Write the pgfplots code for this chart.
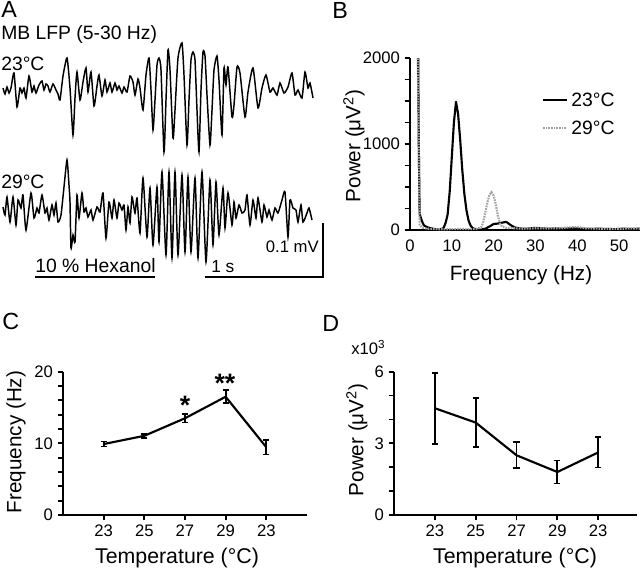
\documentclass[border=0pt]{standalone}
\usepackage{fontspec}
\setmainfont{Liberation Sans}
\usepackage{pgfplots}
\pgfplotsset{compat=1.18}

\newcommand{\fs}[1]{\fontsize{#1}{#1}\selectfont}
\definecolor{dotgray}{HTML}{A0A0A0}

\pgfplotsset{
  panel/.style={
    scale only axis, anchor=south west,
    axis x line*=bottom, axis y line*=left,
    axis line style={-, line width=1.4pt},
    tick style={black, line width=1.3pt},
    tick align=outside, major tick length=4pt, minor tick length=4pt,
    tick label style={font=\fs{12.5}},
    /pgf/number format/assume math mode=true,
    /pgf/number format/set thousands separator={},
  },
  ebar/.style={black, line width=1.6pt, mark=none,
    error bars/.cd, y dir=both, y explicit,
    error bar style={line width=1.4pt},
    error mark options={line width=1.4pt, mark size=2.3pt, rotate=90}},
}

\begin{document}
\begin{tikzpicture}
\useasboundingbox (0,0) rectangle (480pt,-431.25pt);

% panel A, traces and labels, in pixel units of the whole figure
\begin{axis}[at={(240pt,-215.625pt)}, anchor=center, scale only axis,
  width=480pt, height=431.25pt, xmin=0, xmax=640, ymin=0, ymax=575,
  y dir=reverse, hide axis, clip=false]
% 23 C trace
\addplot[black, line width=1.1pt, smooth, tension=0.35] coordinates {
(3,88)(5,94)(7,87)(9,93)(11,88)(14,73)(17,107)(20,88)(22,93)(24,88)(26,98)
(29,76)(32,92)(34,86)(36,93)(39,85)(42,81)(44,90)(46,84)(48,86)(50,92)(53,84)
(56,90)(58,94)(60,100)(63,76)(67,58)(70,88)(73,135)(75,98)(77,72)(80,100)
(83,82)(86,68)(88,92)(91,72)(94,106)(97,86)(99,75)(102,96)(105,80)(107,92)
(110,83)(112,92)(115,83)(117,90)(119,86)(122,93)(124,87)(127,92)(130,76)
(133,82)(135,95)(138,79)(140,88)(143,110)(146,75)(149,58)(151,90)(153,130)
(155,100)(157,65)(159,58)(161,70)(164,152)(166,100)(168,50)(170,70)(173,138)
(175,110)(178,58)(182,43)(184,75)(187,145)(189,100)(191,60)(193,52)(195,60)
(197,110)(199,152)(201,90)(203,52)(205,56)(207,95)(210,145)(212,110)(214,70)
(217,56)(219,80)(222,135)(224,68)(226,85)(228,67)(232,117)(234,105)(237,67)
(240,73)(245,117)(248,92)(253,68)(258,108)(262,88)(266,75)(270,92)(273,88)
(277,95)(280,83)(284,93)(288,87)(292,73)(295,95)(298,90)(302,98)(305,72)
(308,88)(310,83)(313,98)};
% 29 C trace
\addplot[black, line width=1.1pt, smooth, tension=0.35] coordinates {
(3,207)(5,215)(7,197)(10,222)(13,197)(16,225)(18,200)(21,208)(23,195)(26,230)
(31,193)(34,218)(37,208)(39,213)(42,195)(45,213)(47,208)(49,220)(52,205)
(54,215)(56,203)(58,222)(61,215)(64,187)(67,160)(69,185)(70,202)(71,248)
(73,235)(75,242)(77,195)(79,218)(82,193)(84,212)(86,208)(88,217)(91,210)
(93,220)(97,207)(100,212)(103,193)(106,238)(109,202)(112,218)(114,200)
(117,218)(119,203)(122,210)(124,205)(126,230)(128,207)(130,223)(132,197)
(135,213)(137,198)(140,233)(143,178)(147,237)(150,188)(153,245)(157,187)
(159,242)(162,172)(166,255)(169,172)(172,258)(175,172)(178,255)(182,175)
(185,252)(188,177)(191,252)(195,178)(198,258)(202,172)(206,262)(210,180)
(213,245)(216,182)(219,235)(223,188)(225,228)(228,193)(232,225)(234,202)
(236,218)(239,205)(242,213)(245,210)(247,195)(250,225)(253,200)(256,218)
(258,198)(262,222)(264,205)(267,217)(269,210)(272,220)(275,208)(278,213)
(282,200)(285,192)(288,237)(290,200)(293,208)(296,210)(298,222)(301,205)
(303,222)(307,213)(309,208)(312,220)};
% stimulus bar and scale bars
\addplot[black, line width=1.5pt] coordinates {(35,277)(155,277)};
\addplot[black, line width=1.5pt] coordinates {(205,277)(323,277)(323,223)};
% legend of B
\addplot[black, line width=1.5pt] coordinates {(543,100)(567,100)};
\addplot[dotgray, line width=1.5pt, dash pattern=on 1.2pt off 0.8pt] coordinates {(543,128)(567,128)};

\node[inner sep=0, anchor=north west, font=\fs{17.5}] at (axis cs:1,1) {A};
\node[inner sep=0, anchor=base west, font=\fs{14.5}] at (axis cs:1,39) {MB LFP (5-30 Hz)};
\node[inner sep=0, anchor=base west, font=\fs{14.5}] at (axis cs:1,70) {23°C};
\node[inner sep=0, anchor=base west, font=\fs{14.5}] at (axis cs:1,188) {29°C};
\node[inner sep=0, anchor=base west, font=\fs{14.5}] at (axis cs:35,272) {10 \% Hexanol};
\node[inner sep=0, anchor=base west, font=\fs{13}] at (axis cs:211,272) {1 s};
\node[inner sep=0, anchor=base east, font=\fs{12.5}] at (axis cs:319,252) {0.1 mV};

\node[inner sep=0, anchor=north west, font=\fs{17.5}] at (axis cs:332,2) {B};
\node[inner sep=0, anchor=west, font=\fs{14.5}] at (axis cs:571,100) {23°C};
\node[inner sep=0, anchor=west, font=\fs{14.5}] at (axis cs:571,128) {29°C};
\node[inner sep=0, rotate=90, font=\fs{15.5}] at (axis cs:354,146) {Power (μV\textsuperscript{2})};
\node[inner sep=0, anchor=base, font=\fs{15.5}] at (axis cs:521,280) {Frequency (Hz)};

\node[inner sep=0, anchor=north west, font=\fs{17.5}] at (axis cs:2,313) {C};
\node[inner sep=0, rotate=90, font=\fs{15.5}] at (axis cs:16,442) {Frequency (Hz)};
\node[inner sep=0, anchor=base, font=\fs{16}] at (axis cs:177,563) {Temperature (°C)};
\node[inner sep=0, anchor=north, font=\fs{20}\bfseries] at (axis cs:185,396) {*};
\node[inner sep=0, anchor=north, font=\fs{20}\bfseries] at (axis cs:225,374) {**};

\node[inner sep=0, anchor=north west, font=\fs{17.5}] at (axis cs:322,315) {D};
\node[inner sep=0, anchor=base west, font=\fs{12.5}] at (axis cs:351,354) {x10\textsuperscript{3}};
\node[inner sep=0, rotate=90, font=\fs{15.5}] at (axis cs:357,440) {Power (μV\textsuperscript{2})};
\node[inner sep=0, anchor=base, font=\fs{16}] at (axis cs:515,563) {Temperature (°C)};
\end{axis}

% panel B: power spectra
\begin{axis}[panel, at={(307.5pt,-172.5pt)}, width=172.5pt, height=129pt,
  xmin=0, xmax=55, ymin=0, ymax=2000,
  xtick={0,10,...,50}, ytick={0,1000,2000}, minor y tick num=3,
  x tick style={draw=none}, axis line style={line width=1.1pt}]
\addplot[black, line width=1.6pt, line join=round] coordinates {
(1.9,2400)(2.1,1000)(2.3,190)(2.8,110)(3.3,55)(4,35)(5,20)(6,10)(7,5)(8,20)
(8.5,80)(9,180)(9.5,450)(10,850)(10.5,1250)(11,1490)(11.5,1350)(12,1050)
(12.5,700)(13,420)(13.5,230)(14,110)(14.5,50)(15,20)(16,5)(17,5)(18,15)
(19,40)(20,70)(21,75)(22,85)(23,95)(24,60)(25,30)(26,20)(27,15)(28,15)(29,20)
(30,25)(31,20)(33,15)(35,18)(37,15)(39,20)(41,15)(43,12)(45,15)(47,12)(49,10)
(51,15)(53,12)(55,15)};
\addplot[dotgray, line width=1.6pt, dash pattern=on 1.2pt off 0.8pt] coordinates {
(1.7,2400)(2.0,1500)(2.3,60)(3,25)(4,15)(6,10)(8,8)(10,10)(12,12)(14,10)
(16,15)(17,30)(17.5,90)(18,200)(18.5,320)(19,410)(19.5,440)(20,400)(20.5,300)
(21,170)(21.5,80)(22,40)(23,25)(25,20)(27,15)(30,20)(33,18)(36,22)(38,30)
(40,35)(42,20)(45,15)(48,12)(51,15)(53,18)(55,15)};
\end{axis}

% panel C: peak frequency
\begin{axis}[panel, at={(47.25pt,-386.25pt)}, width=183pt, height=107.5pt,
  xmin=-1, xmax=5, ymin=0, ymax=20,
  xtick={0,...,4}, xticklabels={23,25,27,29,23},
  ytick={0,10,20}, minor y tick num=4]
\addplot[ebar] coordinates {
(0,9.9) +- (0,0.35)
(1,11.05) +- (0,0.3)
(2,13.5) +- (0,0.6)
(3,16.5) +- (0,0.9)
(4,9.45) +- (0,1.0)};
\end{axis}

% panel D: power
\begin{axis}[panel, at={(295.5pt,-386.25pt)}, width=182.25pt, height=107.5pt,
  xmin=-1, xmax=4.95, ymin=0, ymax=6,
  xtick={0,...,4}, xticklabels={23,25,27,29,23},
  ytick={0,3,6}, minor y tick num=2]
\addplot[ebar] coordinates {
(0,4.47) +- (0,1.48)
(1,3.87) +- (0,1.02)
(2,2.5) +- (0,0.55)
(3,1.8) +- (0,0.48)
(4,2.62) +- (0,0.63)};
\end{axis}
\end{tikzpicture}
\end{document}
